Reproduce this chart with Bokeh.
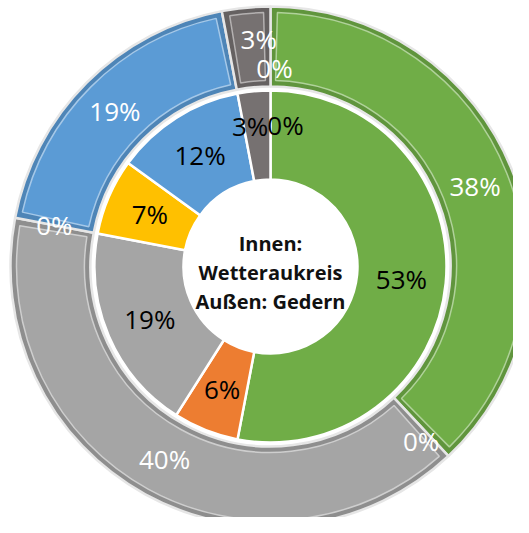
import numpy as np
from bokeh.plotting import figure
from bokeh.models import ColumnDataSource, Range1d
from bokeh.embed import file_html
from bokeh.resources import INLINE
from bokeh.core.properties import value

# ---- data ----
categories = ["Kategorie 1", "Kategorie 2", "Kategorie 3", "Kategorie 4",
              "Kategorie 5", "Kategorie 6", "Kategorie 7"]
inner_values = [53, 6, 19, 7, 12, 3, 0]   # Innen: Wetteraukreis
outer_values = [38, 0, 40, 0, 19, 3, 0]   # Außen: Gedern
colors = ["#70AD47", "#ED7D31", "#A5A5A5", "#FFC000", "#5B9BD5", "#767171", "#FFFFFF"]
center_lines = ["Innen:", "Wetteraukreis", "Außen: Gedern"]

# ---- layout ----
W, H = 513, 517
cx, cy = 270, H - 266
R_HOLE, R_IN_OUT = 87, 176
R_OUT_IN, R_OUT_OUT = 180, 260
FONT = "Open Sans"


def mix(c, other, t):
    a = [int(c[i:i + 2], 16) for i in (1, 3, 5)]
    b = [int(other[i:i + 2], 16) for i in (1, 3, 5)]
    m = [round(a[k] * (1 - t) + b[k] * t) for k in range(3)]
    return "#%02x%02x%02x" % tuple(m)


def angles(vals):
    v = np.array(vals, dtype=float)
    frac = v / v.sum()
    cum = np.concatenate([[0.0], np.cumsum(frac)])
    start = np.pi / 2 - 2 * np.pi * cum[:-1]
    end = np.pi / 2 - 2 * np.pi * cum[1:]
    return start, end, (start + end) / 2


p = figure(width=W, height=H, x_range=Range1d(0, W), y_range=Range1d(0, H),
           output_backend="svg", toolbar_location=None, min_border=0,
           x_axis_type=None, y_axis_type=None)
p.grid.visible = False
p.outline_line_color = None
p.background_fill_color = "white"
p.border_fill_color = "white"

# ---- inner ring ----
s_in, e_in, m_in = angles(inner_values)
keep = [i for i, v in enumerate(inner_values) if v > 0]
src_in = ColumnDataSource(dict(start=s_in[keep], end=e_in[keep],
                               color=[colors[i] for i in keep]))
p.annular_wedge(x=cx, y=cy, inner_radius=R_HOLE, outer_radius=R_IN_OUT,
                start_angle="start", end_angle="end", direction="clock",
                fill_color="color", line_color="white", line_width=2.5,
                source=src_in)

# ---- outer ring with bevel look ----
s_out, e_out, m_out = angles(outer_values)
keep = [i for i, v in enumerate(outer_values) if v > 0]
base_c = [mix(colors[i], "#000000", 0.14) for i in keep]
face_c = [colors[i] for i in keep]
ridge_c = [mix(colors[i], "#FFFFFF", 0.45) for i in keep]
src_out = ColumnDataSource(dict(start=s_out[keep], end=e_out[keep],
                                base=base_c, face=face_c, ridge=ridge_c))
p.annular_wedge(x=cx, y=cy, inner_radius=R_OUT_IN, outer_radius=R_OUT_OUT,
                start_angle="start", end_angle="end", direction="clock",
                fill_color="base", line_color="#E6E6E6", line_width=2.5,
                source=src_out)
inset = 6
d_in = inset / ((R_OUT_IN + R_OUT_OUT) / 2)
src_out2 = ColumnDataSource(dict(start=s_out[keep] - d_in, end=e_out[keep] + d_in,
                                 face=face_c, ridge=ridge_c))
p.annular_wedge(x=cx, y=cy, inner_radius=R_OUT_IN + inset, outer_radius=R_OUT_OUT - inset,
                start_angle="start", end_angle="end", direction="clock",
                fill_color="face", line_color="ridge", line_width=1.5,
                source=src_out2)

# ---- labels ----
def label_pos(mid, r, nudges):
    xs, ys = [], []
    for i, a in enumerate(mid):
        dx, dy = nudges.get(i, (0, 0))
        xs.append(cx + r * np.cos(a) + dx)
        ys.append(cy + r * np.sin(a) + dy)
    return xs, ys

nudge_in = {5: (-8, 10), 6: (15, 10)}
nudge_out = {1: (0, -14), 5: (9, 8), 6: (4, -21)}

xi, yi = label_pos(m_in, (R_HOLE + R_IN_OUT) / 2, nudge_in)
p.text(x=xi, y=yi, text=[f"{v}%" for v in inner_values],
       text_font=value(FONT), text_font_size="26px", text_color="#000000",
       text_align="center", text_baseline="middle")

xo, yo = label_pos(m_out, (R_OUT_IN + R_OUT_OUT) / 2, nudge_out)
p.text(x=xo, y=yo, text=[f"{v}%" for v in outer_values],
       text_font=value(FONT), text_font_size="26px", text_color="#FFFFFF",
       text_align="center", text_baseline="middle")

# ---- centre text ----
line_gap = 29
p.text(x=[cx] * 3, y=[cy + line_gap - 6, cy - 6, cy - line_gap - 6], text=center_lines,
       text_font=value(FONT), text_font_size="20px", text_font_style="bold",
       text_color="#111111", text_align="center", text_baseline="middle")

open("out.html", "w").write(file_html(p, INLINE))
